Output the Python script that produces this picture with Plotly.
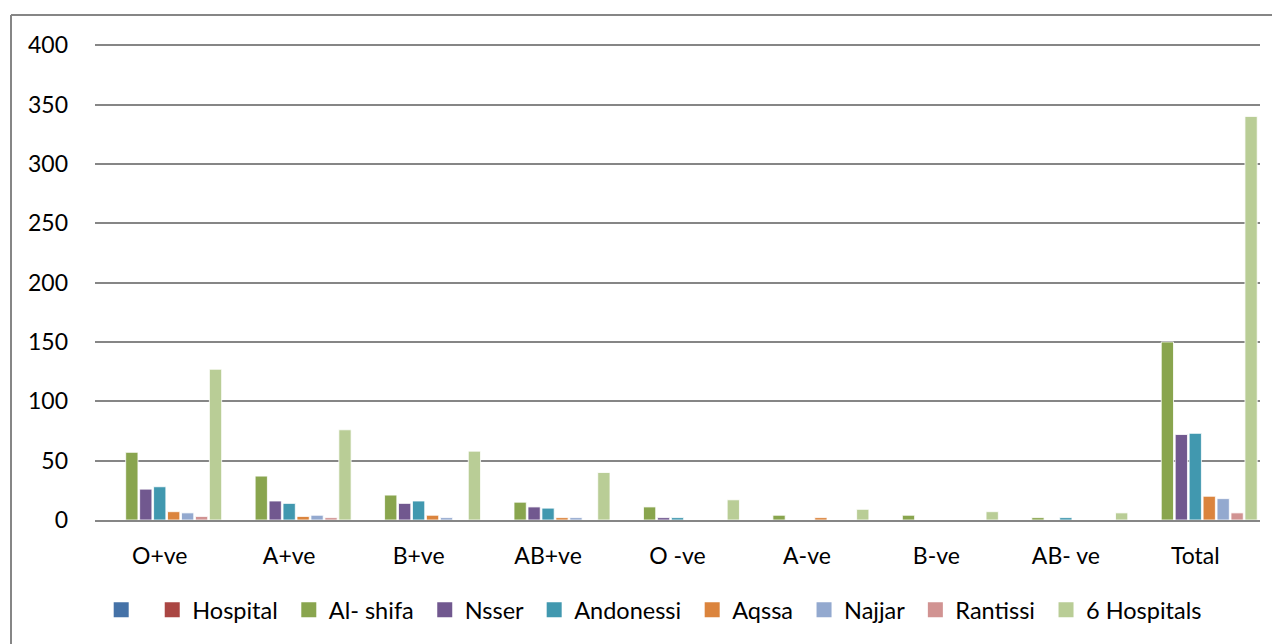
import plotly.graph_objects as go

categories = ["O+ve", "A+ve", "B+ve", "AB+ve", "O -ve", "A-ve", "B-ve", "AB- ve", "Total"]
series_names = [" ", "Hospital", "Al- shifa", "Nsser", "Andonessi", "Aqssa", "Najjar", "Rantissi", "6 Hospitals"]

blank = [0, 0, 0, 0, 0, 0, 0, 0, 0]
hospital = [0, 0, 0, 0, 0, 0, 0, 0, 0]
al_shifa = [57, 37, 21, 15, 11, 4, 4, 2, 150]
nsser = [26, 16, 14, 11, 2, 0, 0, 0, 72]
andonessi = [28, 14, 16, 10, 2, 0, 0, 2, 73]
aqssa = [7, 3, 4, 2, 0, 2, 0, 0, 20]
najjar = [6, 4, 2, 2, 0, 0, 0, 0, 18]
rantissi = [3, 2, 0, 0, 0, 0, 0, 0, 6]
six_hospitals = [127, 76, 58, 40, 17, 9, 7, 6, 340]

colors = ["#4572A7", "#AA4643", "#89A54E", "#71588F", "#4198AF", "#DB843D", "#93A9CF", "#D19392", "#B9CD96"]
values = [blank, hospital, al_shifa, nsser, andonessi, aqssa, najjar, rantissi, six_hospitals]

fig = go.Figure()
for name, vals, col in zip(series_names, values, colors):
    fig.add_trace(go.Bar(
        x=categories, y=vals, name=name, legendgroup=name, showlegend=False,
        marker=dict(color=col, line=dict(color="rgba(255,255,255,0.8)", width=1)),
    ))
# legend entries with larger square swatches (non-breaking space pads the gaps)
for i, (name, col) in enumerate(zip(series_names, colors)):
    label = name if (i == 0 or i == len(series_names) - 1) else name + "\u00a0"
    fig.add_trace(go.Scatter(
        x=[None], y=[None], mode="markers", name=label, legendgroup=name,
        marker=dict(symbol="square", size=15, color=col), hoverinfo="skip",
    ))

# page body has an 8px margin, so figure coords = screen coords - 8
OFF = 8
W, H = 1280, 644
ml, mr, mt, mb = 95 - OFF, 28, 44 - OFF, 132
pw, ph = W - ml - mr, H - mt - mb

def px(x):
    return (x - OFF - ml) / pw

def py(y):
    return (H - mb - (y - OFF)) / ph

fig.update_layout(
    width=W, height=H,
    margin=dict(l=ml, r=mr, t=mt, b=mb),
    paper_bgcolor="white", plot_bgcolor="white",
    barmode="group", bargap=0.03, bargroupgap=0.12,
    font=dict(family="Lato, Open Sans, sans-serif", size=23, color="#000000"),
    xaxis=dict(showgrid=False, showline=True, linecolor="#868686", linewidth=2,
               ticks="", tickfont=dict(size=23), ticklabelstandoff=14),
    yaxis=dict(range=[0, 401], tickvals=[0, 50, 100, 150, 200, 250, 300, 350, 400],
               showgrid=True, gridcolor="#868686", gridwidth=1.5,
               zeroline=False, ticks="", tickfont=dict(size=23), ticklabelstandoff=26,
               showline=False),
    legend=dict(orientation="h", x=0.48, xanchor="center", y=py(610), yanchor="middle",
                font=dict(size=23.5), itemwidth=30, tracegroupgap=0, itemsizing="trace"),
    shapes=[
        dict(type="line", xref="paper", yref="paper", x0=px(11), x1=px(11), y0=py(660), y1=py(15),
             line=dict(color="#868686", width=2)),
        dict(type="line", xref="paper", yref="paper", x0=px(11), x1=px(1300), y0=py(15), y1=py(15),
             line=dict(color="#868686", width=2)),
    ],
)

fig.write_html("out.html")
